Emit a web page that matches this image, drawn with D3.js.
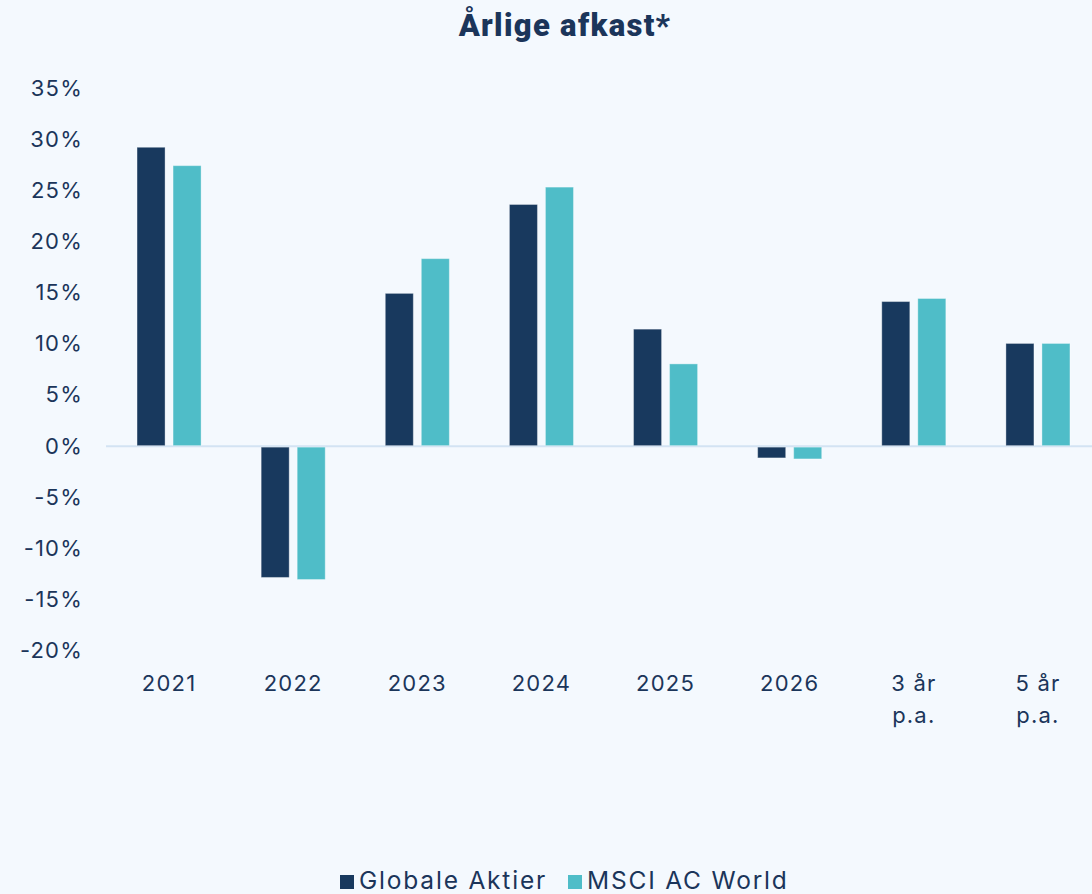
<!DOCTYPE html>
<html>
<head>
<meta charset="utf-8">
<script src="https://cdn.jsdelivr.net/npm/d3@7"></script>
<style>
  body { margin: 0; background: #f4f9fe; }
  svg { display: block; font-family: Inter, "Noto Sans", sans-serif; }
</style>
</head>
<body>
<script>
var categories = ["2021", "2022", "2023", "2024", "2025", "2026", "3 år\np.a.", "5 år\np.a."];
var seriesNames = ["Globale Aktier", "MSCI AC World"];
var globaleAktier = [29.2, -12.9, 14.9, 23.6, 11.4, -1.2, 14.1, 10.0];
var msciAcWorld = [27.4, -13.1, 18.3, 25.3, 8.0, -1.3, 14.4, 10.0];
var yTicks = [35, 30, 25, 20, 15, 10, 5, 0, -5, -10, -15, -20];
var colors = ["#18395e", "#4fbdc8"];

var w = 1092;
var h = 894;
var navy = "#1b355a";

var svg = d3.select("body")
	.append("svg")
	.attr("width", w)
	.attr("height", h);

var y = d3.scaleLinear()
	.domain([-20, 35])
	.range([650, 88]);

var x0 = d3.scaleBand()
	.domain(categories)
	.range([107, 1100])
	.paddingInner(0.484)
	.paddingOuter(0.242);

var x1 = d3.scaleBand()
	.domain(seriesNames)
	.range([0, x0.bandwidth()])
	.paddingInner(0.222);

// title
svg.append("text")
	.text("Årlige afkast*")
	.attr("x", 565)
	.attr("y", 36)
	.attr("text-anchor", "middle")
	.attr("font-family", "Roboto, sans-serif")
	.attr("font-weight", "900")
	.attr("font-size", "31px")
	.attr("letter-spacing", "1.3px")
	.attr("fill", navy);

// y axis labels
svg.selectAll("text.ytick")
	.data(yTicks)
	.enter()
	.append("text")
	.attr("class", "ytick")
	.text(function(d) { return d + "%"; })
	.attr("x", 83)
	.attr("y", function(d) { return y(d); })
	.attr("dy", "0.36em")
	.attr("text-anchor", "end")
	.attr("font-size", "22px")
	.attr("letter-spacing", "1.2px")
	.attr("fill", navy);

// zero line
svg.append("line")
	.attr("x1", 106)
	.attr("x2", w)
	.attr("y1", y(0) + 0.5)
	.attr("y2", y(0) + 0.5)
	.attr("stroke", "#d3e3f3")
	.attr("stroke-width", 2);

var rows = categories.map(function(c, i) {
	return { cat: c, vals: [globaleAktier[i], msciAcWorld[i]] };
});

var groups = svg.selectAll("g.grp")
	.data(rows)
	.enter()
	.append("g")
	.attr("class", "grp")
	.attr("transform", function(d) { return "translate(" + x0(d.cat) + ",0)"; });

groups.selectAll("rect")
	.data(function(d) {
		return d.vals.map(function(v, j) { return { name: seriesNames[j], v: v, j: j }; });
	})
	.enter()
	.append("rect")
	.attr("x", function(d) { return x1(d.name); })
	.attr("y", function(d) { return d.v >= 0 ? y(d.v) : y(0) + 1.5; })
	.attr("width", x1.bandwidth())
	.attr("height", function(d) { return d.v >= 0 ? y(0) - y(d.v) : y(d.v) - y(0) - 1.5; })
	.attr("fill", function(d) { return colors[d.j]; })
	.attr("stroke", "rgba(255,255,255,0.35)")
	.attr("stroke-width", 1);

// x labels
var xl = svg.selectAll("text.xtick")
	.data(categories)
	.enter()
	.append("text")
	.attr("class", "xtick")
	.attr("x", function(d) { return x0(d) + x0.bandwidth() / 2; })
	.attr("y", 691)
	.attr("text-anchor", "middle")
	.attr("font-size", "22px")
	.attr("letter-spacing", "1.2px")
	.attr("fill", navy);

xl.selectAll("tspan")
	.data(function(d) { return d.split("\n"); })
	.enter()
	.append("tspan")
	.attr("x", function() { return d3.select(this.parentNode).attr("x"); })
	.attr("dy", function(d, i) { return i === 0 ? 0 : 32; })
	.text(function(d) { return d; });

// legend
var legendX = [340, 568];
var legend = svg.selectAll("g.leg")
	.data(seriesNames)
	.enter()
	.append("g")
	.attr("class", "leg")
	.attr("transform", function(d, i) { return "translate(" + legendX[i] + ",875)"; });

legend.append("rect")
	.attr("width", 14)
	.attr("height", 14)
	.attr("fill", function(d, i) { return colors[i]; });

legend.append("text")
	.text(function(d) { return d; })
	.attr("x", 19)
	.attr("y", 14)
	.attr("font-size", "24.5px")
	.attr("letter-spacing", "1.8px")
	.attr("fill", navy);
</script>
</body>
</html>
